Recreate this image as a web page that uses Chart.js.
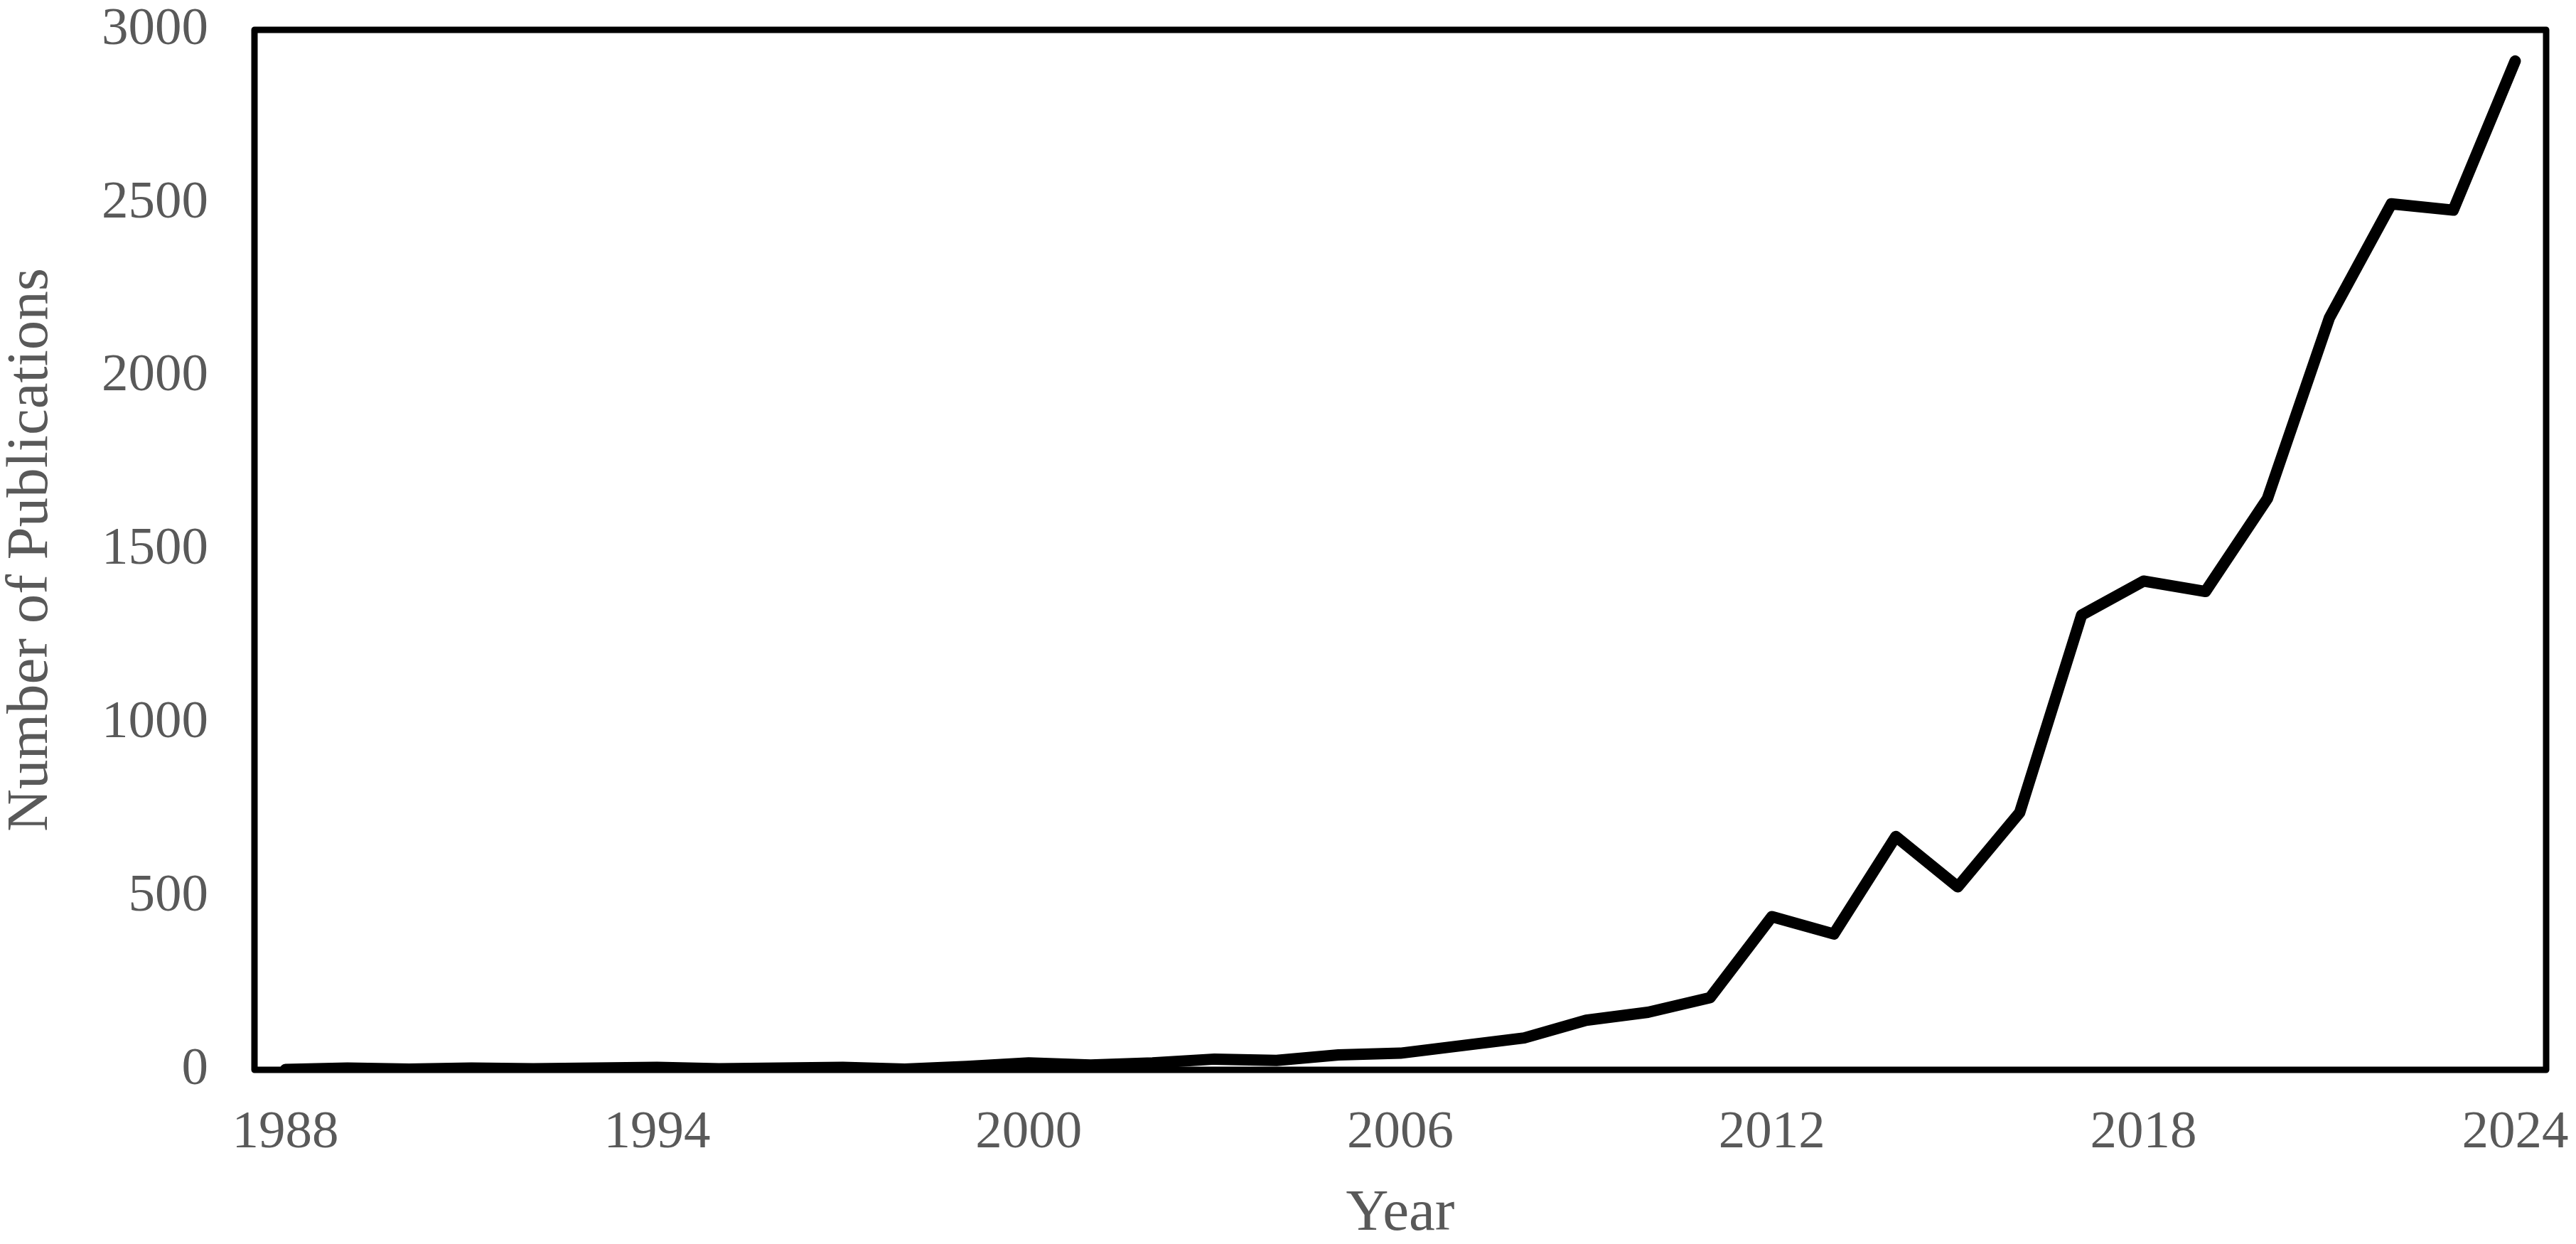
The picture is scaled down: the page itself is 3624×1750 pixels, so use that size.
<!DOCTYPE html>
<html>
<head>
<meta charset="utf-8">
<title>Number of Publications per Year</title>
<script src="https://cdn.jsdelivr.net/npm/chart.js@4.4.1/dist/chart.umd.min.js"></script>
<style>
    html, body { margin: 0; padding: 0; background: #ffffff; }
    canvas { display: block; }
</style>
</head>
<body>
<canvas id="pubChart" width="3624" height="1750"></canvas>
<script>
const years = [
    1988, 1989, 1990, 1991, 1992, 1993, 1994, 1995, 1996, 1997,
    1998, 1999, 2000, 2001, 2002, 2003, 2004, 2005, 2006, 2007,
    2008, 2009, 2010, 2011, 2012, 2013, 2014, 2015, 2016, 2017,
    2018, 2019, 2020, 2021, 2022, 2023, 2024
];
const publications = [
    1, 5, 2, 5, 3, 5, 7, 3, 5, 7,
    2, 10, 20, 14, 20, 31, 27, 43, 48, 70,
    92, 143, 166, 208, 442, 392, 673, 528, 742, 1312,
    1410, 1380, 1648, 2169, 2498, 2480, 2910
];
const shownYears = [1988, 1994, 2000, 2006, 2012, 2018, 2024];
const yTicks = [0, 500, 1000, 1500, 2000, 2500, 3000];

const TEXT_COLOR = '#595959';
const FONT = '"Liberation Serif", "Times New Roman", serif';

// black box round the plot area
const frame = {
    id: 'frame',
    afterDatasetsDraw(chart) {
        const { ctx, chartArea } = chart;
        ctx.save();
        ctx.strokeStyle = '#000000';
        ctx.lineWidth = 9;
        ctx.lineJoin = 'round';
        ctx.strokeRect(chartArea.left, chartArea.top,
            chartArea.right - chartArea.left, chartArea.bottom - chartArea.top);
        ctx.restore();
    }
};

const ctx = document.getElementById('pubChart').getContext('2d');
new Chart(ctx, {
    type: 'line',
    data: {
        labels: years,
        datasets: [{
            label: 'Publications',
            data: publications,
            borderColor: '#000000',
            borderWidth: 16,
            borderCapStyle: 'round',
            borderJoinStyle: 'round',
            pointRadius: 0,
            tension: 0,
            fill: false
        }]
    },
    options: {
        responsive: false,
        animation: false,
        layout: { padding: { left: 0, top: 42, right: 42, bottom: 0 } },
        plugins: {
            legend: { display: false },
            tooltip: { enabled: false }
        },
        scales: {
            x: {
                type: 'category',
                offset: true,
                grid: { display: false, drawTicks: false },
                border: { display: false },
                afterFit(scale) {
                    scale.height = 245;
                    scale.paddingLeft = 0;
                    scale.paddingRight = 0;
                },
                ticks: {
                    autoSkip: false,
                    maxRotation: 0,
                    padding: 44,
                    color: TEXT_COLOR,
                    font: { family: FONT, size: 75, lineHeight: 1.2 },
                    callback(value, index) {
                        const year = years[index];
                        return shownYears.includes(year) ? String(year) : '';
                    }
                },
                title: {
                    display: true,
                    text: 'Year',
                    color: TEXT_COLOR,
                    padding: 0,
                    font: { family: FONT, size: 83, lineHeight: 1 }
                }
            },
            y: {
                min: 0,
                max: 3000,
                grid: { display: false, drawTicks: false },
                border: { display: false },
                afterFit(scale) {
                    scale.width = 358;
                    scale.paddingTop = 0;
                    scale.paddingBottom = 0;
                },
                afterBuildTicks(scale) {
                    scale.ticks = yTicks.map(v => ({ value: v }));
                },
                ticks: {
                    padding: 65,
                    color: TEXT_COLOR,
                    font: { family: FONT, size: 75 },
                    callback: value => String(value)
                },
                title: {
                    display: true,
                    text: 'Number of Publications',
                    color: TEXT_COLOR,
                    padding: 0,
                    font: { family: FONT, size: 83, lineHeight: 1.06 }
                }
            }
        }
    },
    plugins: [frame]
});
</script>
</body>
</html>
